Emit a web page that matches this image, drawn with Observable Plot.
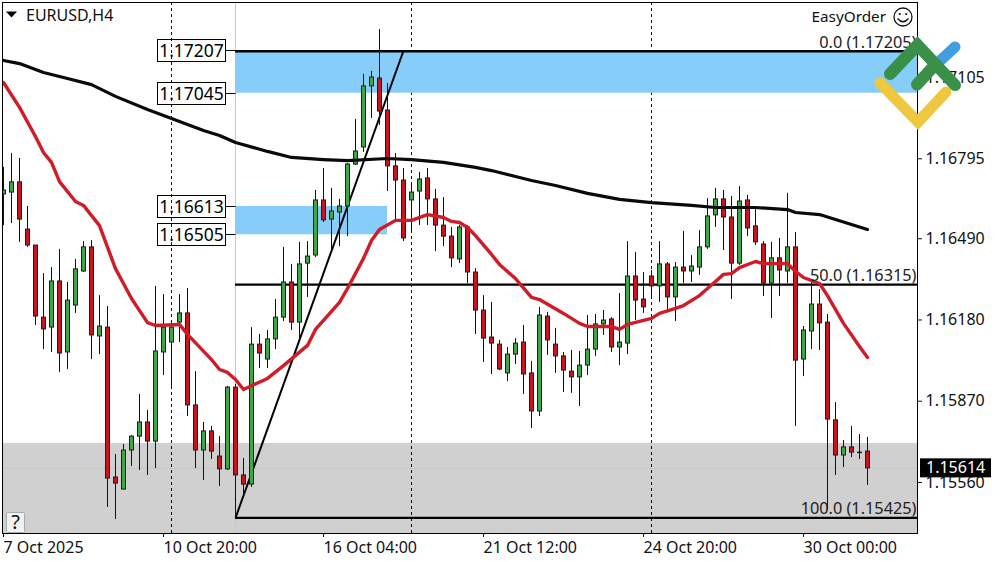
<!DOCTYPE html>
<html><head><meta charset="utf-8">
<script src="https://cdn.jsdelivr.net/npm/d3@7"></script>
<script src="https://cdn.jsdelivr.net/npm/@observablehq/plot@0.6"></script>
<style>html,body{margin:0;padding:0;background:#fff}svg{display:block}</style>
</head><body><div id="chart"></div>
<script>
const opens = [
1.16659,1.16666,1.16705,1.16525,1.16464,1.16189,1.16151,1.16327,1.16056,1.16235,
1.16365,1.16457,1.16117,1.16151,1.15579,1.15533,1.15682,1.15735,1.15789,1.15716,
1.16056,1.16094,1.16170,1.16205,1.15854,1.15682,1.15755,1.15659,1.15610,1.15922,
1.15587,1.15552,1.16086,1.16029,1.16106,1.16189,1.16323,1.16170,1.16395,1.16426,
1.16636,1.16563,1.16590,1.16613,1.16773,1.16838,1.17071,1.17101,1.16979,1.16766,
1.16712,1.16636,1.16670,1.16720,1.16640,1.16540,1.16498,1.16411,1.16533,1.16361,
1.16216,1.16113,1.16086,1.15976,1.16048,1.16094,1.15976,1.15831,1.16193,1.16086,
1.16041,1.15983,1.15961,1.16006,1.16067,1.16163,1.16182,1.16075,1.16090,1.16346,
1.16258,1.16346,1.16308,1.16392,1.16266,1.16380,1.16365,1.16380,1.16457,1.16579,
1.16640,1.16571,1.16395,1.16636,1.16537,1.16468,1.16319,1.16415,1.16365,1.16457,
1.16029,1.16136,1.16239,1.16170,1.15797,1.15663,1.15694,1.15674,1.15678];
const highs = [
1.16762,1.16815,1.16796,1.16613,1.16464,1.16357,1.16380,1.16449,1.16323,1.16411,
1.16479,1.16483,1.16273,1.16231,1.15667,1.15705,1.15739,1.15896,1.15835,1.16308,
1.16277,1.16174,1.16277,1.16300,1.15983,1.15789,1.15774,1.15735,1.15926,1.15934,
1.15652,1.16151,1.16125,1.16140,1.16258,1.16457,1.16392,1.16476,1.16479,1.16674,
1.16758,1.16682,1.16640,1.16777,1.16945,1.17117,1.17128,1.17288,1.17082,1.16815,
1.16758,1.16701,1.16743,1.16758,1.16678,1.16647,1.16533,1.16540,1.16540,1.16376,
1.16273,1.16247,1.16102,1.16075,1.16109,1.16159,1.16022,1.16228,1.16209,1.16148,
1.16056,1.16064,1.16060,1.16197,1.16201,1.16216,1.16189,1.16281,1.16479,1.16437,
1.16361,1.16369,1.16479,1.16399,1.16399,1.16518,1.16426,1.16521,1.16643,1.16682,
1.16674,1.16651,1.16689,1.16655,1.16601,1.16479,1.16476,1.16491,1.16663,1.16514,
1.16155,1.16331,1.16296,1.16201,1.15865,1.15720,1.15774,1.15743,1.15732];
const lows = [
1.16540,1.16548,1.16476,1.16457,1.16159,1.16067,1.16056,1.15980,1.15991,1.16205,
1.16361,1.16029,1.16048,1.15465,1.15419,1.15533,1.15621,1.15606,1.15587,1.15613,
1.15968,1.15919,1.16094,1.15812,1.15613,1.15568,1.15648,1.15545,1.15606,1.15423,
1.15499,1.15541,1.15995,1.15995,1.16067,1.16174,1.16140,1.16109,1.16266,1.16418,
1.16552,1.16437,1.16460,1.16498,1.16769,1.16819,1.16949,1.16922,1.16670,1.16560,
1.16479,1.16510,1.16540,1.16540,1.16441,1.16460,1.16380,1.16395,1.16319,1.16125,
1.16018,1.15972,1.15987,1.15945,1.16010,1.15896,1.15766,1.15812,1.16045,1.15976,
1.15903,1.15900,1.15850,1.15968,1.16041,1.16121,1.16056,1.16006,1.16048,1.16178,
1.16205,1.16258,1.16247,1.16216,1.16174,1.16319,1.16323,1.16350,1.16449,1.16533,
1.16445,1.16258,1.16388,1.16498,1.16464,1.16270,1.16186,1.16270,1.16319,1.15774,
1.15964,1.16067,1.16064,1.15453,1.15587,1.15617,1.15655,1.15648,1.15549];
const closes = [
1.16674,1.16705,1.16563,1.16464,1.16193,1.16144,1.16327,1.16052,1.16254,1.16373,
1.16457,1.16121,1.16155,1.15575,1.15556,1.15682,1.15735,1.15789,1.15716,1.16060,
1.16151,1.16151,1.16205,1.15854,1.15682,1.15755,1.15678,1.15610,1.15922,1.15587,
1.15552,1.16086,1.16052,1.16106,1.16189,1.16323,1.16170,1.16392,1.16422,1.16636,
1.16560,1.16594,1.16613,1.16773,1.16823,1.17071,1.17105,1.16975,1.16766,1.16712,
1.16491,1.16666,1.16716,1.16640,1.16540,1.16498,1.16415,1.16533,1.16361,1.16216,
1.16109,1.16090,1.15991,1.16048,1.16090,1.15972,1.15831,1.16197,1.16102,1.16041,
1.15987,1.15961,1.16006,1.16067,1.16163,1.16178,1.16075,1.16094,1.16346,1.16254,
1.16228,1.16308,1.16392,1.16266,1.16380,1.16365,1.16384,1.16457,1.16575,1.16640,
1.16571,1.16395,1.16632,1.16529,1.16476,1.16319,1.16415,1.16369,1.16457,1.16025,
1.16140,1.16239,1.16167,1.15800,1.15663,1.15694,1.15674,1.15672,1.15614];

const fastIdx = [0,2,4,5,6,7,9,10,12,14,16,18,19,22,23,26,27,28,29,30,33,35,38,39,42,43,45,46,47,49,51,53,55,56,57,58,59,61,62,64,66,67,70,72,73,76,77,78,81,82,84,85,87,89,90,91,92,94,95,98,99,100,102,103,105,107,108];
const fastMA = [1.17086,1.16991,1.16880,1.16819,1.16781,1.16708,1.16632,1.16617,1.16540,1.16376,1.16262,1.16170,1.16159,1.16163,1.16125,1.16029,1.15991,1.15980,1.15953,1.15915,1.15957,1.16006,1.16083,1.16144,1.16247,1.16300,1.16415,1.16483,1.16525,1.16560,1.16560,1.16582,1.16571,1.16556,1.16552,1.16533,1.16502,1.16430,1.16392,1.16338,1.16266,1.16258,1.16205,1.16167,1.16155,1.16155,1.16144,1.16163,1.16186,1.16205,1.16224,1.16235,1.16273,1.16327,1.16354,1.16357,1.16380,1.16403,1.16395,1.16395,1.16365,1.16342,1.16319,1.16273,1.16167,1.16079,1.16037];
const slowIdx = [0,2,5,8,11,14,18,21,25,27,29,33,36,40,43,48,51,55,59,61,66,69,73,77,81,86,89,94,98,99,102,104,108];
const slowMA = [1.17170,1.17158,1.17124,1.17101,1.17078,1.17033,1.16983,1.16949,1.16903,1.16884,1.16857,1.16823,1.16800,1.16792,1.16788,1.16796,1.16792,1.16781,1.16762,1.16750,1.16712,1.16693,1.16663,1.16640,1.16628,1.16617,1.16609,1.16609,1.16601,1.16590,1.16582,1.16563,1.16525];

const yTicks = [1.17105,1.16795,1.16490,1.16180,1.15870,1.15560];
const xTickIdx = [0,20,40,60,80,100];
const xTickLabels = ["7 Oct 2025","10 Oct 20:00","16 Oct 04:00","21 Oct 12:00","24 Oct 20:00","30 Oct 00:00"];
const separators = [21,51,81];
const priceTags = [1.17207,1.17045,1.16613,1.16505];
const fibStart = 29, fibEnd = 50, fibLevels = [1.17205,1.16315,1.15425], fibNames = ["0.0","50.0","100.0"];
const zoneUpper = [1.17045,1.17207], zoneLower = [1.16505,1.16613], zoneGrey = [1.15709,1.15300];
const lastPrice = closes[closes.length-1];
const FONT = "'Noto Sans',sans-serif";
const GREEN="#3ea548", RED="#c8141e", BLUE="#87cdf9", GREY="#d0d0d0";

const candles = opens.map((o,i)=>({i,o,h:highs[i],l:lows[i],c:closes[i]}));
const fast = fastIdx.map((i,k)=>({i,v:fastMA[k]}));
const slow = slowIdx.map((i,k)=>({i,v:slowMA[k]}));
const right = 115;

const chart = Plot.plot({
  width:1000,height:562,marginLeft:2,marginTop:2,marginRight:83,marginBottom:29,
  style:{fontFamily:FONT,fontSize:"16px",background:"#fff",color:"#111"},
  x:{type:"linear",domain:[0,108],range:[3,867],label:null},
  y:{type:"linear",domain:[1.17105,1.1556],range:[77,482],label:null},
  marks:[
    Plot.rect([zoneGrey],{y1:d=>d[0],y2:d=>d[1],fill:GREY,clip:"frame"}),
    Plot.ruleY([lastPrice],{stroke:"#c6c6c6"}),
    Plot.ruleX([fibStart],{stroke:"#c8c8c8"}),
    Plot.ruleX(separators,{stroke:"#111",strokeDasharray:"3,3"}),
    Plot.rect([zoneUpper],{x1:fibStart,x2:right,y1:d=>d[0],y2:d=>d[1],fill:BLUE,clip:"frame"}),
    Plot.rect([zoneLower],{x1:fibStart,x2:48,y1:d=>d[0],y2:d=>d[1],fill:BLUE,clip:"frame"}),
    Plot.ruleY(fibLevels,{x1:fibStart,x2:right,stroke:"#000",strokeWidth:2.4,clip:"frame"}),
    Plot.link([0],{x1:fibStart,y1:fibLevels[2],x2:fibEnd,y2:1.17207,stroke:"#000",strokeWidth:2}),
    Plot.ruleX(candles,{x:"i",y1:"l",y2:"h",stroke:"#111",clip:"frame"}),
    Plot.rect(candles,{x1:d=>d.i-0.25,x2:d=>d.i+0.25,y1:"o",y2:"c",dx:0.5,fill:d=>d.c>=d.o?GREEN:RED,stroke:"#1e1e1e",clip:"frame"}),
    Plot.line(slow,{x:"i",y:"v",stroke:"#0a0a0a",strokeWidth:3.2,clip:"frame"}),
    Plot.line(fast,{x:"i",y:"v",stroke:"#d01c28",strokeWidth:3.4,clip:"frame"}),
    Plot.text(fibLevels,{y:d=>d,frameAnchor:"right",dx:-1,dy:-9,textAnchor:"end",fill:"#222",fontSize:16.3,
      text:(d,k)=>`${fibNames[k]} (${d.toFixed(5)})`}),
    Plot.axisY({anchor:"right",ticks:yTicks,tickFormat:d=>d.toFixed(5),tickSize:4,tickPadding:4,label:null,stroke:"#111",fill:"#111"}),
    Plot.axisX({anchor:"bottom",ticks:xTickIdx,tickFormat:d=>xTickLabels[xTickIdx.indexOf(d)],tickSize:4,tickPadding:4,textAnchor:"start",label:null,dx:0,stroke:"#111",fill:"#111"}),
    Plot.frame({stroke:"#000"})
  ]
});
const y = chart.scale("y").apply, x = chart.scale("x").apply;
const svg = d3.select(chart);
const txt = (g,s,xx,yy,size,fill,anchor)=>g.append("text").attr("x",xx).attr("y",yy).attr("dy","0.35em")
  .attr("font-family",FONT).attr("font-size",size).attr("fill",fill||"#111").attr("text-anchor",anchor||"start").text(s);

// price tags
const tags = svg.append("g");
priceTags.forEach(p=>{
  const py = Math.round(y(p))+0.5;
  tags.append("rect").attr("x",157.5).attr("y",py-11).attr("width",68).attr("height",22).attr("fill","none").attr("stroke","#000");
  tags.append("line").attr("x1",225.5).attr("x2",235.5).attr("y1",py).attr("y2",py).attr("stroke","#000");
  txt(tags,p.toFixed(5),191.5,py,17.5,"#000","middle");
});
// header
const head = svg.append("g");
head.append("path").attr("d","M6,11.5 L17,11.5 L11.5,17.5 Z").attr("fill","#000");
txt(head,"EURUSD,H4",26,15,16,"#111");
txt(head,"EasyOrder",886,17,15.3,"#111","end");
head.append("circle").attr("cx",903).attr("cy",17).attr("r",9).attr("fill","none").attr("stroke","#111").attr("stroke-width",1.3);
head.append("circle").attr("cx",899.8).attr("cy",14).attr("r",1.1).attr("fill","#111");
head.append("circle").attr("cx",906.2).attr("cy",14).attr("r",1.1).attr("fill","#111");
head.append("path").attr("d","M897.5,18.5 Q903,25 908.5,18.5").attr("fill","none").attr("stroke","#111").attr("stroke-width",1.3);
// help button
const help = svg.append("g");
help.append("rect").attr("x",6.5).attr("y",512.5).attr("width",18).attr("height",20).attr("rx",1).attr("fill","#f2f2f2").attr("stroke","#aaa");
txt(help,"?",15.5,522,20,"#111","middle");
// current price tag
const cur = svg.append("g");
const cy = y(lastPrice);
cur.append("rect").attr("x",920).attr("y",cy-9.5).attr("width",71).attr("height",19).attr("fill","#000");
txt(cur,lastPrice.toFixed(5),926,cy,16,"#fff");
// logo
const logo = svg.append("g").attr("fill","none").attr("stroke-linecap","round").attr("stroke-linejoin","miter").attr("stroke-width",11);
logo.append("path").attr("d","M928,72 L955,47").attr("stroke","#3f9fe0");
logo.append("path").attr("d","M880,83 L918,122 L946,92").attr("stroke","#f0c840");
logo.append("path").attr("d","M890,74 L917.5,45 L955,85 M917,84.5 L933,67").attr("stroke","#3a9048").attr("stroke-width",12);
document.getElementById("chart").append(chart);
</script></body></html>
